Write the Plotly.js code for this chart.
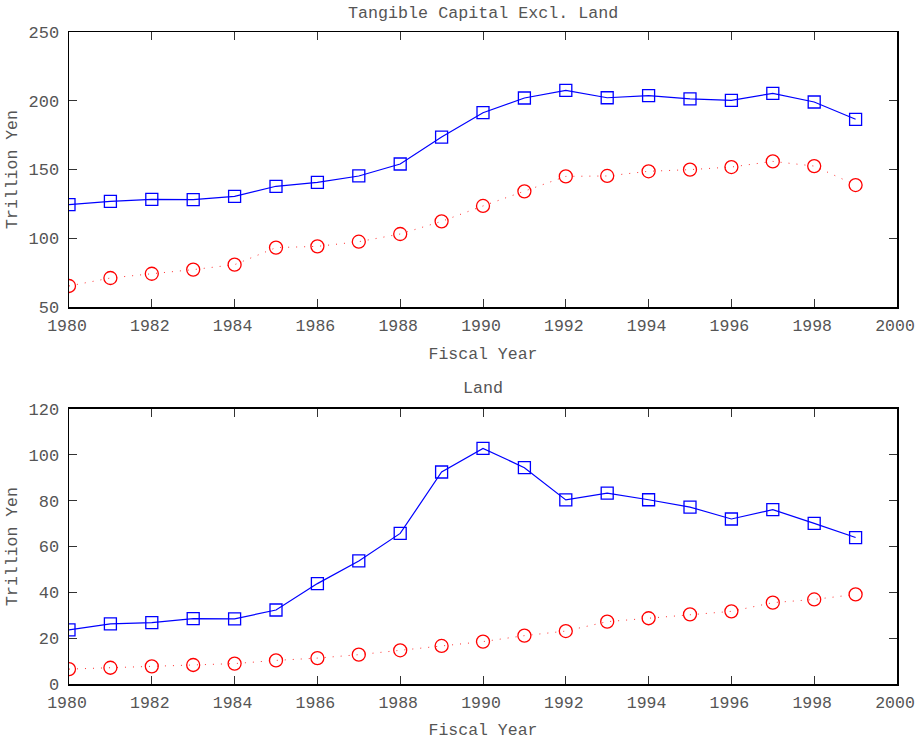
<!DOCTYPE html>
<html><head><meta charset="utf-8">
<script src="https://cdn.plot.ly/plotly-3.0.1.min.js"></script>
<style>body{margin:0;background:#fff}#c{width:915px;height:740px}</style>
</head><body><div id="c"></div>
<script>
const years = [1980,1981,1982,1983,1984,1985,1986,1987,1988,1989,1990,1991,1992,1993,1994,1995,1996,1997,1998,1999];
const capitalBlue = [124.4,126.8,128.3,128.1,130.5,137.8,140.7,145.3,154.0,173.6,191.3,202.0,207.6,202.2,203.7,201.3,200.3,205.4,199.1,186.5];
const capitalRed  = [65.3,71.1,74.2,77.2,80.8,93.2,94.1,97.5,103.1,112.3,123.5,134.1,145.0,145.3,148.7,149.9,151.8,155.9,152.5,138.7];
const landBlue = [23.6,26.2,26.8,28.5,28.4,32.3,43.8,53.7,65.7,92.5,102.8,94.4,80.3,83.3,80.4,77.2,72.0,76.1,70.1,63.9];
const landRed  = [6.5,7.1,7.7,8.3,8.9,10.3,11.3,12.8,14.7,16.6,18.5,21.1,23.1,27.2,28.7,30.4,31.7,35.5,36.9,39.1];
const xTicks = [1980,1982,1984,1986,1988,1990,1992,1994,1996,1998,2000];
const capTicks = [50,100,150,200,250];
const landTicks = [0,20,40,60,80,100,120];
const titles = ['Tangible Capital Excl. Land','Land'];

const MONO = 'Liberation Mono, Courier New, monospace';
const TXT = '#555';
function blue(x,y,ax){return {x:x,y:y,xaxis:ax[0],yaxis:ax[1],mode:'lines+markers',
  line:{color:'#0000ff',width:1.2},marker:{symbol:'square-open',size:12,color:'#0000ff',line:{width:1.3}},showlegend:false};}
function red(x,y,ax){return {x:x,y:y,xaxis:ax[0],yaxis:ax[1],mode:'lines+markers',
  line:{color:'#ff3030',width:1,dash:'1px,7px'},marker:{symbol:'circle-open',size:13,color:'#ff0000',line:{width:1.3}},showlegend:false};}

const data = [
  blue(years,capitalBlue,['x','y']), red(years,capitalRed,['x','y']),
  blue(years,landBlue,['x2','y2']), red(years,landRed,['x2','y2'])
];
function xa(anchor){return {anchor:anchor,range:[1980,2000],tickvals:xTicks,ticktext:xTicks.map(String),
  showline:true,mirror:'ticks',linecolor:'#000',linewidth:1.5,ticks:'inside',ticklen:8,tickcolor:'#333',tickwidth:1,
  showgrid:false,zeroline:false,tickfont:{family:MONO,size:16.5,color:TXT},ticklabelstandoff:3,ticklabelshift:-2,ticklabeloverflow:'allow',
  title:{text:'Fiscal Year',font:{family:MONO,size:16.5,color:TXT},standoff:12}};}
function ya(anchor,domain,range,ticks){return {anchor:anchor,domain:domain,range:range,tickvals:ticks,ticktext:ticks.map(String),
  showline:true,mirror:'ticks',linecolor:'#000',linewidth:1.5,ticks:'inside',ticklen:8,tickcolor:'#333',tickwidth:1,
  showgrid:false,zeroline:false,tickfont:{family:MONO,size:17,color:TXT},ticklabelstandoff:5,
  title:{text:'Trillion Yen',font:{family:MONO,size:16.5,color:TXT},standoff:6}};}
const layout = {
  width:915,height:740,margin:{l:69,r:18,t:32,b:56},paper_bgcolor:'#fff',plot_bgcolor:'#fff',
  xaxis:xa('y'), yaxis:ya('x',[0.5782,1],[50,250],capTicks),
  xaxis2:xa('y2'), yaxis2:ya('x2',[0,0.4218],[0,120],landTicks),
  annotations:[
    {text:titles[0],xref:'paper',yref:'paper',x:0.5,y:1,yanchor:'middle',yshift:19,showarrow:false,font:{family:MONO,size:16.7,color:TXT}},
    {text:titles[1],xref:'paper',yref:'paper',x:0.5,y:0.4218,yanchor:'middle',yshift:20,showarrow:false,font:{family:MONO,size:16.7,color:TXT}}
  ]
};
Plotly.newPlot('c',data,layout,{displayModeBar:false,staticPlot:true});
</script></body></html>
